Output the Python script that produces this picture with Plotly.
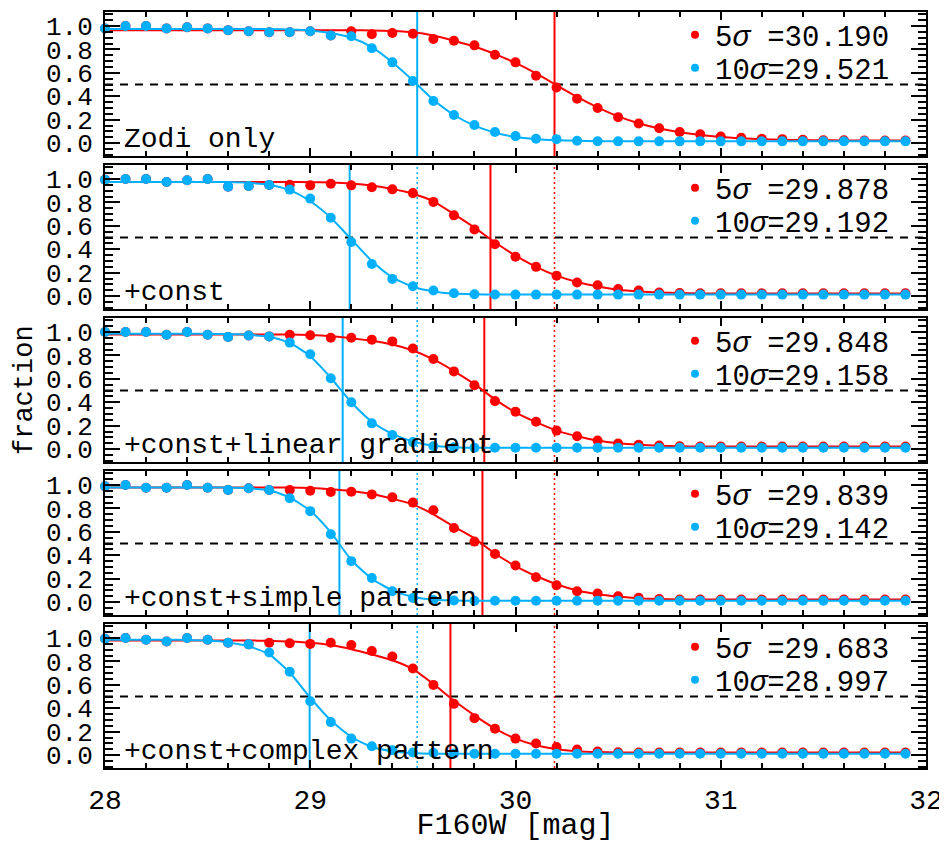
import plotly.graph_objects as go
from plotly.subplots import make_subplots

# ---------------- data ----------------
mags = [28.0, 28.1, 28.2, 28.3, 28.4, 28.5, 28.6, 28.7, 28.8, 28.9,
        29.0, 29.1, 29.2, 29.3, 29.4, 29.5, 29.6, 29.7, 29.8, 29.9,
        30.0, 30.1, 30.2, 30.3, 30.4, 30.5, 30.6, 30.7, 30.8, 30.9,
        31.0, 31.1, 31.2, 31.3, 31.4, 31.5, 31.6, 31.7, 31.8, 31.9]

panel_labels = ["Zodi only", "+const", "+const+linear gradient",
                "+const+simple pattern", "+const+complex pattern"]
lim_5sig = [30.190, 29.878, 29.848, 29.839, 29.683]
lim_10sig = [29.521, 29.192, 29.158, 29.142, 28.997]

# measured fractions (points); at bright magnitudes both thresholds coincide
red_pts_1 = [0.98, 1.00, 1.00, 0.98, 0.99, 0.98, 0.965, 0.955, 0.947, 0.947,
             0.955, 0.92, 0.955, 0.93, 0.94, 0.935, 0.89, 0.875, 0.835, 0.755,
             0.69, 0.575, 0.475, 0.38, 0.30, 0.222, 0.168, 0.127, 0.095, 0.075,
             0.056, 0.045, 0.037, 0.034, 0.028, 0.025, 0.024, 0.023, 0.022, 0.022]
blue_pts_1 = [0.98, 1.00, 1.00, 0.98, 0.99, 0.98, 0.965, 0.955, 0.947, 0.947,
              0.955, 0.92, 0.913, 0.81, 0.69, 0.53, 0.36, 0.24, 0.155, 0.095,
              0.06, 0.037, 0.034, 0.02, 0.016, 0.015, 0.015, 0.015, 0.015, 0.015,
              0.015, 0.015, 0.015, 0.015, 0.015, 0.015, 0.015, 0.015, 0.015, 0.015]

red_pts_2 = [0.994, 1.00, 1.00, 0.975, 0.99, 1.00, 0.935, 0.94, 0.95, 0.952,
             0.946, 0.96, 0.946, 0.93, 0.912, 0.88, 0.805, 0.69, 0.57, 0.443,
             0.336, 0.25, 0.175, 0.116, 0.093, 0.06, 0.048, 0.031, 0.027, 0.025,
             0.025, 0.025, 0.025, 0.025, 0.025, 0.025, 0.025, 0.025, 0.025, 0.025]
blue_pts_2 = [0.994, 1.00, 1.00, 0.975, 0.99, 1.00, 0.935, 0.94, 0.95, 0.91,
              0.833, 0.67, 0.463, 0.274, 0.147, 0.085, 0.048, 0.025, 0.016, 0.014,
              0.013, 0.013, 0.013, 0.013, 0.013, 0.013, 0.013, 0.013, 0.013, 0.013,
              0.013, 0.013, 0.013, 0.013, 0.013, 0.013, 0.013, 0.013, 0.013, 0.013]

red_pts_3 = [1.00, 1.00, 1.00, 0.977, 1.00, 0.977, 0.958, 0.97, 0.963, 0.977,
             0.972, 0.952, 0.952, 0.935, 0.92, 0.86, 0.77, 0.664, 0.545, 0.41,
             0.32, 0.234, 0.158, 0.11, 0.073, 0.048, 0.037, 0.031, 0.025, 0.022,
             0.022, 0.022, 0.022, 0.022, 0.022, 0.022, 0.022, 0.022, 0.022, 0.022]
blue_pts_3 = [1.00, 1.00, 1.00, 0.977, 1.00, 0.977, 0.958, 0.97, 0.963, 0.91,
              0.81, 0.605, 0.40, 0.22, 0.12, 0.06, 0.025, 0.015, 0.012, 0.012,
              0.012, 0.012, 0.012, 0.012, 0.012, 0.012, 0.012, 0.012, 0.012, 0.012,
              0.012, 0.012, 0.012, 0.012, 0.012, 0.012, 0.012, 0.012, 0.012, 0.012]

red_pts_4 = [0.99, 1.00, 0.977, 0.977, 1.00, 0.977, 0.958, 0.972, 0.958, 0.958,
             0.952, 0.94, 0.943, 0.92, 0.895, 0.85, 0.785, 0.633, 0.517, 0.412,
             0.313, 0.212, 0.144, 0.093, 0.073, 0.05, 0.037, 0.027, 0.022, 0.022,
             0.022, 0.022, 0.022, 0.022, 0.022, 0.022, 0.022, 0.022, 0.022, 0.022]
blue_pts_4 = [0.99, 1.00, 0.977, 0.977, 1.00, 0.977, 0.958, 0.972, 0.958, 0.887,
              0.777, 0.58, 0.35, 0.206, 0.093, 0.035, 0.018, 0.014, 0.012, 0.012,
              0.012, 0.012, 0.012, 0.012, 0.012, 0.012, 0.012, 0.012, 0.012, 0.012,
              0.012, 0.012, 0.012, 0.012, 0.012, 0.012, 0.012, 0.012, 0.012, 0.012]

red_pts_5 = [0.994, 1.00, 0.986, 0.97, 1.00, 0.986, 0.96, 0.946, 0.96, 0.955,
             0.95, 0.96, 0.94, 0.89, 0.842, 0.74, 0.60, 0.438, 0.316, 0.226,
             0.141, 0.099, 0.07, 0.048, 0.03, 0.024, 0.022, 0.022, 0.022, 0.022,
             0.022, 0.022, 0.022, 0.022, 0.022, 0.022, 0.022, 0.022, 0.022, 0.022]
blue_pts_5 = [0.994, 1.00, 0.986, 0.97, 1.00, 0.986, 0.96, 0.946, 0.876, 0.712,
              0.46, 0.282, 0.141, 0.076, 0.042, 0.023, 0.02, 0.014, 0.012, 0.012,
              0.012, 0.012, 0.012, 0.012, 0.012, 0.012, 0.012, 0.012, 0.012, 0.012,
              0.012, 0.012, 0.012, 0.012, 0.012, 0.012, 0.012, 0.012, 0.012, 0.012]

# fitted curves at the same magnitudes
red_fit_1 = [0.965, 0.965, 0.965, 0.965, 0.965, 0.965, 0.965, 0.965, 0.965, 0.965,
             0.965, 0.965, 0.965, 0.963, 0.958, 0.948, 0.92, 0.875, 0.825, 0.76,
             0.685, 0.595, 0.495, 0.395, 0.305, 0.228, 0.17, 0.125, 0.093, 0.07,
             0.053, 0.042, 0.034, 0.029, 0.026, 0.024, 0.023, 0.022, 0.022, 0.022]
blue_fit_1 = [0.975, 0.975, 0.975, 0.975, 0.975, 0.975, 0.975, 0.975, 0.974, 0.971,
              0.962, 0.94, 0.90, 0.82, 0.69, 0.535, 0.37, 0.24, 0.15, 0.09,
              0.052, 0.034, 0.025, 0.02, 0.017, 0.016, 0.016, 0.016, 0.016, 0.016,
              0.016, 0.016, 0.016, 0.016, 0.016, 0.016, 0.016, 0.016, 0.016, 0.016]

red_fit_2 = [0.975, 0.975, 0.975, 0.975, 0.975, 0.975, 0.975, 0.975, 0.975, 0.975,
             0.973, 0.97, 0.962, 0.945, 0.915, 0.875, 0.81, 0.70, 0.585, 0.46,
             0.345, 0.25, 0.175, 0.12, 0.082, 0.055, 0.04, 0.031, 0.026, 0.023,
             0.023, 0.023, 0.023, 0.023, 0.023, 0.023, 0.023, 0.023, 0.023, 0.023]
blue_fit_2 = [0.975, 0.975, 0.975, 0.975, 0.975, 0.975, 0.974, 0.968, 0.952, 0.905,
              0.81, 0.67, 0.485, 0.30, 0.16, 0.08, 0.04, 0.022, 0.016, 0.013,
              0.013, 0.013, 0.013, 0.013, 0.013, 0.013, 0.013, 0.013, 0.013, 0.013,
              0.013, 0.013, 0.013, 0.013, 0.013, 0.013, 0.013, 0.013, 0.013, 0.013]

red_fit_3 = [0.98, 0.98, 0.98, 0.98, 0.98, 0.98, 0.98, 0.98, 0.98, 0.978,
             0.974, 0.965, 0.948, 0.925, 0.893, 0.842, 0.766, 0.667, 0.555, 0.425,
             0.314, 0.23, 0.158, 0.11, 0.073, 0.05, 0.037, 0.029, 0.024, 0.022,
             0.022, 0.022, 0.022, 0.022, 0.022, 0.022, 0.022, 0.022, 0.022, 0.022]
blue_fit_3 = [0.985, 0.985, 0.985, 0.985, 0.985, 0.985, 0.983, 0.977, 0.958, 0.907,
              0.794, 0.61, 0.40, 0.234, 0.13, 0.065, 0.028, 0.016, 0.012, 0.012,
              0.012, 0.012, 0.012, 0.012, 0.012, 0.012, 0.012, 0.012, 0.012, 0.012,
              0.012, 0.012, 0.012, 0.012, 0.012, 0.012, 0.012, 0.012, 0.012, 0.012]

red_fit_4 = [0.98, 0.98, 0.98, 0.98, 0.98, 0.98, 0.98, 0.98, 0.98, 0.978,
             0.974, 0.965, 0.95, 0.924, 0.884, 0.835, 0.75, 0.645, 0.545, 0.415,
             0.308, 0.223, 0.153, 0.10, 0.068, 0.048, 0.034, 0.027, 0.023, 0.022,
             0.022, 0.022, 0.022, 0.022, 0.022, 0.022, 0.022, 0.022, 0.022, 0.022]
blue_fit_4 = [0.98, 0.98, 0.98, 0.98, 0.98, 0.98, 0.978, 0.972, 0.955, 0.893,
              0.78, 0.595, 0.36, 0.20, 0.10, 0.045, 0.02, 0.014, 0.012, 0.012,
              0.012, 0.012, 0.012, 0.012, 0.012, 0.012, 0.012, 0.012, 0.012, 0.012,
              0.012, 0.012, 0.012, 0.012, 0.012, 0.012, 0.012, 0.012, 0.012, 0.012]

red_fit_5 = [0.98, 0.98, 0.98, 0.98, 0.98, 0.98, 0.98, 0.979, 0.976, 0.97,
             0.96, 0.94, 0.905, 0.86, 0.81, 0.734, 0.607, 0.466, 0.339, 0.226,
             0.141, 0.085, 0.051, 0.034, 0.026, 0.022, 0.022, 0.022, 0.022, 0.022,
             0.022, 0.022, 0.022, 0.022, 0.022, 0.022, 0.022, 0.022, 0.022, 0.022]
blue_fit_5 = [0.985, 0.985, 0.985, 0.985, 0.984, 0.978, 0.962, 0.93, 0.86, 0.706,
              0.49, 0.297, 0.155, 0.07, 0.034, 0.018, 0.012, 0.012, 0.012, 0.012,
              0.012, 0.012, 0.012, 0.012, 0.012, 0.012, 0.012, 0.012, 0.012, 0.012,
              0.012, 0.012, 0.012, 0.012, 0.012, 0.012, 0.012, 0.012, 0.012, 0.012]

red_pts = [red_pts_1, red_pts_2, red_pts_3, red_pts_4, red_pts_5]
blue_pts = [blue_pts_1, blue_pts_2, blue_pts_3, blue_pts_4, blue_pts_5]
red_fit = [red_fit_1, red_fit_2, red_fit_3, red_fit_4, red_fit_5]
blue_fit = [blue_fit_1, blue_fit_2, blue_fit_3, blue_fit_4, blue_fit_5]

# ---------------- style ----------------
RED = "#FF0000"
BLUE = "#00B0FF"
FONT = "Liberation Mono"
# the page body adds an 8px margin, so the figure is drawn 8px in from the corner
W, H = 939, 835
ML, MR, MT, MB = 97, 21, 4, 75
PH, GAP = 144, 9
plot_h = H - MT - MB
plot_w = W - ML - MR

fig = make_subplots(rows=5, cols=1, shared_xaxes=True,
                    vertical_spacing=GAP / plot_h)

shapes = []
annotations = []
layout_legends = {}
for i in range(5):
    r = i + 1
    sfx = "" if r == 1 else str(r)
    lg_red = "legend" if i == 0 else f"legend{2 * i + 1}"
    lg_blue = f"legend{2 * i + 2}"
    fig.add_trace(go.Scatter(x=mags, y=red_fit[i], mode="lines",
                             line=dict(color=RED, width=2, shape="spline", smoothing=0.6),
                             showlegend=False, hoverinfo="skip"), row=r, col=1)
    fig.add_trace(go.Scatter(x=mags, y=red_pts[i], mode="markers",
                             marker=dict(color=RED, size=10), cliponaxis=False,
                             showlegend=False), row=r, col=1)
    fig.add_trace(go.Scatter(x=mags, y=blue_fit[i], mode="lines",
                             line=dict(color=BLUE, width=2, shape="spline", smoothing=0.6),
                             showlegend=False, hoverinfo="skip"), row=r, col=1)
    fig.add_trace(go.Scatter(x=mags, y=blue_pts[i], mode="markers",
                             marker=dict(color=BLUE, size=10), cliponaxis=False,
                             showlegend=False), row=r, col=1)
    fig.add_trace(go.Scatter(x=[None], y=[None], mode="markers",
                             marker=dict(color=RED, size=8),
                             name="5<i>σ</i> =%.3f" % lim_5sig[i],
                             legend=lg_red, showlegend=True), row=r, col=1)
    fig.add_trace(go.Scatter(x=[None], y=[None], mode="markers",
                             marker=dict(color=BLUE, size=8),
                             name="10<i>σ</i>=%.3f" % lim_10sig[i],
                             legend=lg_blue, showlegend=True), row=r, col=1)

    xr, yr = f"x{sfx}", f"y{sfx}"
    shapes.append(dict(type="line", xref=f"{xr} domain", yref=yr, x0=0, x1=1,
                       y0=0.5, y1=0.5, line=dict(color="black", width=2, dash="8px,7px"),
                       layer="below"))
    shapes.append(dict(type="line", xref=xr, yref=f"{yr} domain", x0=lim_10sig[i], x1=lim_10sig[i],
                       y0=0, y1=1, line=dict(color=BLUE, width=2), layer="below"))
    shapes.append(dict(type="line", xref=xr, yref=f"{yr} domain", x0=lim_5sig[i], x1=lim_5sig[i],
                       y0=0, y1=1, line=dict(color=RED, width=2), layer="below"))
    if i > 0:
        shapes.append(dict(type="line", xref=xr, yref=f"{yr} domain", x0=lim_10sig[0], x1=lim_10sig[0],
                           y0=0, y1=1, line=dict(color=BLUE, width=1.5, dash="2px,3px"), layer="below"))
        shapes.append(dict(type="line", xref=xr, yref=f"{yr} domain", x0=lim_5sig[0], x1=lim_5sig[0],
                           y0=0, y1=1, line=dict(color=RED, width=1.5, dash="2px,3px"), layer="below"))
    annotations.append(dict(text=panel_labels[i], xref=f"{xr} domain", yref=f"{yr} domain",
                            x=0.021, y=0.115, xanchor="left", yanchor="middle", showarrow=False,
                            font=dict(family=FONT, size=28, color="black")))
    panel_top = MT + i * (PH + GAP)
    for lg, dy in ((lg_red, 23), (lg_blue, 56)):
        layout_legends[lg] = dict(x=(667 - ML) / plot_w, xanchor="left",
                                  y=(H - MB - (panel_top + dy)) / plot_h, yanchor="middle",
                                  bgcolor="rgba(0,0,0,0)", borderwidth=0,
                                  font=dict(family=FONT, size=29, color="black"),
                                  itemsizing="trace")

annotations.append(dict(text="fraction", xref="paper", yref="paper", x=(17 - ML) / plot_w,
                        y=0.5, textangle=-90, showarrow=False, xanchor="center", yanchor="middle",
                        font=dict(family=FONT, size=27, color="black")))

axis_common = dict(showline=True, linecolor="black", linewidth=2, mirror="allticks",
                   ticks="inside", tickcolor="black", showgrid=False, zeroline=False)

fig.update_xaxes(range=[28, 32], tick0=28, dtick=1, ticklen=8, tickwidth=1.5,
                 tickfont=dict(family=FONT, size=28, color="black"),
                 ticklabeloverflow="allow",
                 minor=dict(dtick=0.2, ticks="inside", ticklen=5, tickcolor="black", tickwidth=1.5),
                 **axis_common)
fig.update_yaxes(range=[-0.11, 1.12], tick0=0, dtick=0.2, tickformat=".1f", ticklen=15,
                 tickwidth=1.5, ticklabelstandoff=5, ticklabeloverflow="allow",
                 tickfont=dict(family=FONT, size=26, color="black"),
                 minor=dict(dtick=0.05, ticks="inside", ticklen=8, tickcolor="black", tickwidth=1.5),
                 **axis_common)
fig.update_xaxes(title=dict(text="F160W [mag]", font=dict(family=FONT, size=30, color="black"),
                            standoff=13),
                 ticklabelstandoff=5, row=5, col=1)

fig.update_layout(width=W, height=H, margin=dict(l=ML, r=MR, t=MT, b=MB, autoexpand=False),
                  paper_bgcolor="white", plot_bgcolor="white",
                  shapes=shapes, annotations=annotations,
                  font=dict(family=FONT, color="black"), **layout_legends)

fig.write_html("out.html")
